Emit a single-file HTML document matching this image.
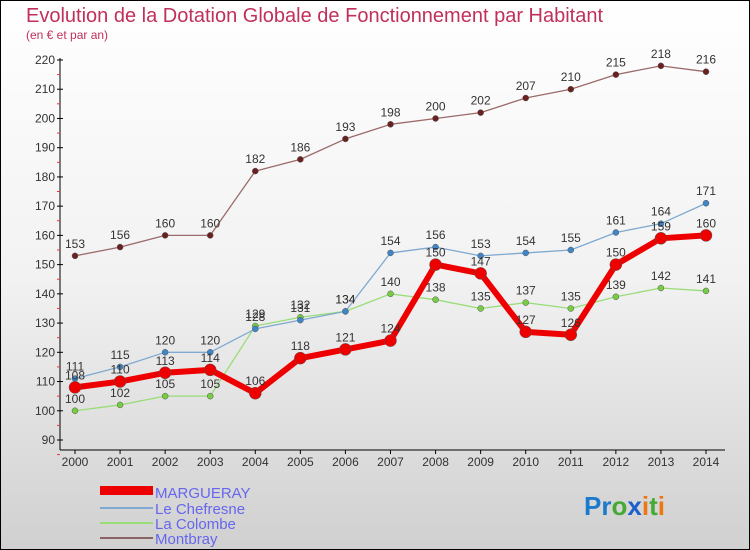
<!DOCTYPE html>
<html><head><meta charset="utf-8"><style>
body{margin:0}
#c{width:750px;height:550px;position:relative;overflow:hidden;background:linear-gradient(#ffffff 0%,#f2f2f2 50%,#d0d0d0 100%);font-family:"Liberation Sans",sans-serif}
</style></head><body>
<div id="c">
<svg id="s" width="750" height="550" style="position:absolute;left:0;top:0">
<rect x="0.5" y="0.5" width="749" height="549" fill="none" stroke="#000"/>
<text x="26" y="22" font-size="20" fill="#c0305a">Evolution de la Dotation Globale de Fonctionnement par Habitant</text>
<text x="26" y="39" font-size="12" fill="#c0305a">(en € et par an)</text>
<g id="axes"></g><g id="series"></g>
<g>
<rect x="100" y="486" width="53" height="9" fill="#e00"/>
<text x="155" y="498" font-size="15" fill="#6666ee">MARGUERAY</text>
<rect x="100" y="507" width="53" height="2" fill="#7fa9d0"/>
<text x="155" y="514" font-size="15" fill="#6666ee">Le Chefresne</text>
<rect x="100" y="522" width="53" height="2" fill="#99dd77"/>
<text x="155" y="529" font-size="15" fill="#6666ee">La Colombe</text>
<rect x="100" y="537" width="53" height="2" fill="#8a6464"/>
<text x="155" y="544" font-size="15" fill="#6666ee">Montbray</text>
</g>
<text x="584" y="515" font-size="26" font-weight="bold"><tspan fill="#1a7acc">Pr</tspan><tspan fill="#44aa33">o</tspan><tspan fill="#1a5fcc">x</tspan><tspan fill="#ee7711">i</tspan><tspan fill="#44aa33">t</tspan><tspan fill="#ee7711">i</tspan></text>
</svg></div>
<script>
const years=[2000,2001,2002,2003,2004,2005,2006,2007,2008,2009,2010,2011,2012,2013,2014];
const yTicks=[90,100,110,120,130,140,150,160,170,180,190,200,210,220];
const margueray=[108,110,113,114,106,118,121,124,150,147,127,126,150,159,160];
const chefresne=[111,115,120,120,128,131,134,154,156,153,154,155,161,164,171];
const colombe=[100,102,105,105,129,132,134,140,138,135,137,135,139,142,141];
const montbray=[153,156,160,160,182,186,193,198,200,202,207,210,215,218,216];
const NS="http://www.w3.org/2000/svg";
function X(i){return 75+i*(706-75)/(years.length-1);}
function Y(v){return 440-(v-90)*(380/130);}
function mk(t,a,p){const e=document.createElementNS(NS,t);for(const k in a)e.setAttribute(k,a[k]);p.appendChild(e);return e;}
const ax=document.getElementById('axes');
let l=mk('line',{x1:60,y1:58,x2:60,y2:450,stroke:'#000'},ax);


l=mk('line',{x1:60,y1:450,x2:725,y2:450,stroke:'#000'},ax);


yTicks.forEach(v=>{
 const t=mk('text',{x:55,y:Y(v)+4,'font-size':12,fill:'#333','text-anchor':'end'},ax);t.textContent=v;
 
 
 mk('line',{x1:57,x2:63,y1:Y(v),y2:Y(v),stroke:'#000'},ax);
 mk('line',{x1:57,x2:60,y1:Y(v)+14.6,y2:Y(v)+14.6,stroke:'#e33'},ax);
});
years.forEach((y,i)=>{
 const t=mk('text',{x:X(i),y:466,'font-size':12,fill:'#333','text-anchor':'middle'},ax);t.textContent=y;
 
 
 mk('line',{x1:X(i),x2:X(i),y1:450,y2:454,stroke:'#000'},ax);
});
const sg=document.getElementById('series');
function draw(name,data,color,w,r,dot){
 const g=mk('g',{},sg);
 
 
 const p=mk('polyline',{points:data.map((v,i)=>X(i)+','+Y(v)).join(' '),fill:'none',stroke:color,'stroke-width':w,'stroke-linejoin':'round'},g);
 
 
 data.forEach((v,i)=>{
  const c=mk('circle',{cx:X(i),cy:Y(v),r:r,fill:dot,stroke:'#555','stroke-width':0.5},g);
  
  
  const t=mk('text',{x:X(i),y:Y(v)-8,'font-size':12,fill:'#333','text-anchor':'middle'},g);t.textContent=v;
  
  
 });
}
draw('montbray',montbray,'#9b6a6a',1.3,3,'#6b2020');
draw('colombe',colombe,'#99dd77',1.3,3,'#77cc44');
draw('chefresne',chefresne,'#7fa9d0',1.3,3,'#3f86c8');
draw('margueray',margueray,'#ee0000',6,6,'#ee0000');
</script>
</body></html>
